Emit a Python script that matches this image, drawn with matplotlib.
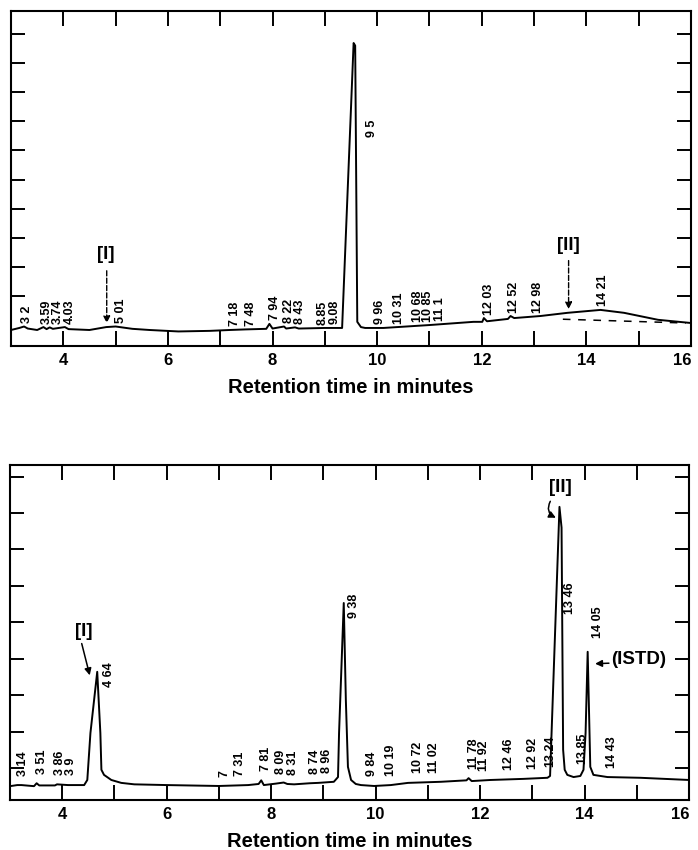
import matplotlib
matplotlib.use('Agg')
import matplotlib.pyplot as plt
import matplotlib.transforms as mtransforms
import numpy as np

plt.rcParams['font.family'] = ['Liberation Sans', 'DejaVu Sans']
plt.rcParams['font.weight'] = 'bold'

# upper chromatogram (minutes, detector units)
top_t = [3.0, 3.16, 3.25, 3.32, 3.5, 3.62, 3.68, 3.74, 3.8, 4.03, 4.1, 4.5,
         4.82, 5.0, 5.32, 5.65, 6.2, 6.8, 7.18, 7.48, 7.88, 7.94, 8.0, 8.22,
         8.26, 8.43, 8.5, 9.0, 9.33, 9.55, 9.58, 9.62, 9.69, 9.77, 10.12,
         11.0, 11.84, 12.01, 12.04, 12.1, 12.5, 12.55, 12.62, 13.12, 13.64,
         14.27, 14.72, 15.37, 16.0]
top_y = [-0.17, -0.10, -0.05, -0.12, -0.17, -0.07, -0.14, -0.08, -0.13, -0.07,
         -0.14, -0.17, -0.07, -0.05, -0.13, -0.17, -0.22, -0.20, -0.17, -0.15,
         -0.13, 0.04, -0.12, -0.05, -0.12, -0.08, -0.12, -0.10, -0.10, 9.69,
         9.60, 0.11, -0.07, -0.10, -0.10, 0.0, 0.11, 0.11, 0.24, 0.13, 0.21,
         0.31, 0.24, 0.31, 0.42, 0.52, 0.42, 0.18, 0.07]
top_drop_t = [13.55, 15.9]
top_drop_y = [0.20, 0.07]
top_labels = ["3 2", "3.59", "3.74", "4.03", "5 01", "7 18", "7 48", "7 94",
              "8 22", "8 43", "8.85", "9.08", "9 5", "9 96", "10 31", "10 68",
              "10 85", "11 1", "12 03", "12 52", "12 98", "14 21"]

# lower chromatogram
bot_t = [3.0, 3.14, 3.22, 3.46, 3.51, 3.56, 3.86, 3.9, 4.11, 4.42, 4.48, 4.54,
         4.67, 4.73, 4.75, 4.80, 4.94, 5.13, 5.38, 6.0, 7.0, 7.56, 7.76, 7.81,
         7.86, 8.09, 8.24, 8.31, 8.44, 8.74, 8.9, 9.2, 9.28, 9.30, 9.39, 9.43,
         9.47, 9.53, 9.62, 9.72, 9.97, 10.29, 10.62, 11.25, 11.74, 11.78, 11.84,
         12.2, 12.83, 13.29, 13.34, 13.52, 13.56, 13.59, 13.62, 13.67, 13.79,
         13.92, 13.98, 14.02, 14.06, 14.11, 14.17, 14.44, 15.07, 16.0]
bot_y = [0.50, 0.53, 0.53, 0.50, 0.58, 0.52, 0.52, 0.55, 0.53, 0.53, 0.67, 1.96,
         3.64, 1.96, 0.95, 0.81, 0.67, 0.59, 0.55, 0.53, 0.505, 0.53, 0.56, 0.66,
         0.53, 0.57, 0.60, 0.56, 0.55, 0.58, 0.59, 0.62, 0.75, 1.96, 5.53, 2.87,
         1.03, 0.67, 0.56, 0.53, 0.505, 0.53, 0.59, 0.62, 0.66, 0.72, 0.64,
         0.67, 0.70, 0.73, 0.78, 8.17, 7.6, 1.5, 0.95, 0.81, 0.75, 0.78, 0.95,
         1.96, 4.19, 1.03, 0.81, 0.75, 0.73, 0.67]
bot_labels = ["3 14", "3 51", "3 86", "3 9", "4 64", "7", "7 31", "7 81",
              "8 09", "8 31", "8 74", "8 96", "9 38", "9 84", "10 19", "10 72",
              "11 02", "11 78", "11 92", "12 46", "12 92", "13.24", "13 46",
              "13.85", "14 05", "14 43"]

fig = plt.figure(figsize=(6.98, 8.5), dpi=100)
ax1 = fig.add_axes([11 / 698, 1 - 346 / 850, 680 / 698, 335 / 850])
ax2 = fig.add_axes([10 / 698, 1 - 800 / 850, 679 / 698, 335 / 850])


def rt(s):
    return float(s.replace(' ', '.'))


def frame(ax, ylim, yticks):
    ax.set_xlim(3, 16)
    ax.set_ylim(*ylim)
    ax.set_xticks(range(4, 17))
    ax.set_xticklabels([str(v) if v % 2 == 0 else '' for v in range(4, 17)],
                       fontsize=12, fontweight='bold')
    ax.set_yticks(yticks)
    ax.tick_params(axis='x', direction='in', length=10.5, width=1.4,
                   top=True, pad=5)
    ax.tick_params(axis='y', direction='in', length=10, width=1.4,
                   right=True, labelleft=False)
    # last label sits inside the page edge, as on the printout
    last = ax.get_xticklabels()[-1]
    last.set_transform(last.get_transform() + mtransforms.ScaledTranslation(
        -6 / 72, 0, fig.dpi_scale_trans))
    for sp in ax.spines.values():
        sp.set_linewidth(1.5)
    ax.set_xlabel('Retention time in minutes', fontsize=14.5,
                  fontweight='bold', labelpad=7)


def peak_labels(ax, t, y, labels, big, gap):
    prev = None
    for s in labels:
        if s in big:
            bx, by = big[s]
            ax.text(bx, by, s, rotation=90, ha='center', va='center',
                    fontsize=9, fontweight='bold')
            continue
        x = rt(s) + 0.1
        if prev is not None:
            x = max(x, prev + 0.2)
        prev = x
        grid = np.linspace(rt(s), x, 5)
        yb = np.interp(grid, t, y).max() + gap
        ax.text(x, yb, s, rotation=90, ha='center', va='bottom',
                fontsize=9, fontweight='bold')


# upper panel
frame(ax1, (-0.72, 10.79), range(1, 11))
ax1.plot(top_t, top_y, color='black', lw=1.4)
ax1.plot(top_drop_t, top_drop_y, color='black', lw=1.1, ls=(0, (5, 5)))
peak_labels(ax1, top_t, top_y, top_labels, {"9 5": (9.9, 6.77)}, 0.12)
ax1.text(4.82, 2.41, '[I]', ha='center', va='center', fontsize=13.5)
ax1.annotate('', xy=(4.83, -0.03), xytext=(4.83, 1.96),
             arrowprops=dict(arrowstyle='-|>', ls='--', lw=1.0,
                             color='black', mutation_scale=10))
ax1.text(13.66, 2.75, '[II]', ha='center', va='center', fontsize=13.5)
ax1.annotate('', xy=(13.66, 0.45), xytext=(13.66, 2.31),
             arrowprops=dict(arrowstyle='-|>', ls='--', lw=1.0,
                             color='black', mutation_scale=10))

# lower panel
frame(ax2, (0.12, 9.32), range(1, 10))
ax2.plot(bot_t, bot_y, color='black', lw=1.4)
big2 = {"4 64": (4.9, 3.55), "9 38": (9.58, 5.45),
        "13 46": (13.73, 5.67), "14 05": (14.25, 5.01)}
peak_labels(ax2, bot_t, bot_y, bot_labels, big2, 0.25)
ax2.text(4.42, 4.74, '[I]', ha='center', va='center', fontsize=13.5)
ax2.annotate('', xy=(4.54, 3.47), xytext=(4.36, 4.49),
             arrowprops=dict(arrowstyle='-|>', lw=1.1, color='black',
                             mutation_scale=10))
ax2.text(13.54, 8.69, '[II]', ha='center', va='center', fontsize=13.5)
ax2.annotate('', xy=(13.50, 7.84), xytext=(13.37, 8.39),
             arrowprops=dict(arrowstyle='-|>', lw=1.1, color='black',
                             mutation_scale=10,
                             connectionstyle='arc3,rad=0.6'))
ax2.text(14.50, 3.99, '(ISTD)', ha='left', va='center', fontsize=13.5)
ax2.annotate('', xy=(14.15, 3.86), xytext=(14.52, 3.88),
             arrowprops=dict(arrowstyle='-|>', lw=1.1, color='black',
                             mutation_scale=10))

fig.savefig('out.png', dpi=100)
